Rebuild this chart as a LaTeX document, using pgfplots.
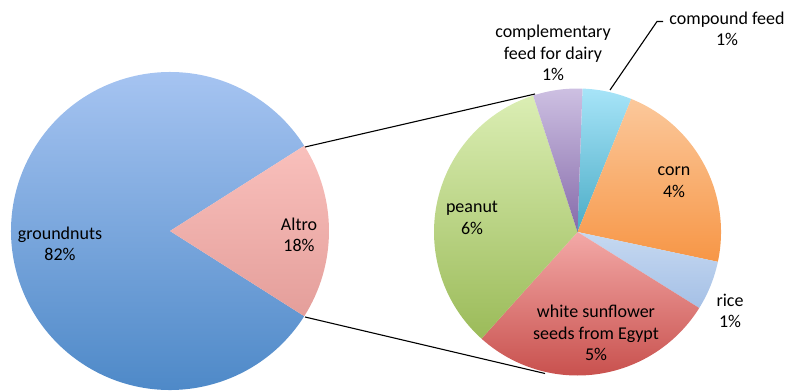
\documentclass[border=0pt]{standalone}
\usepackage{pgfplots}
\pgfplotsset{compat=1.18}
\usepackage{pgfplotstable}
\usepackage{fontspec}
\setmainfont{Carlito}

\definecolor{gnT}{RGB}{172,200,244}
\definecolor{gnB}{RGB}{72,133,197}
\definecolor{alT}{RGB}{249,192,188}
\definecolor{alB}{RGB}{228,158,154}
\definecolor{cfT}{RGB}{167,228,248}
\definecolor{cfB}{RGB}{75,172,198}
\definecolor{coT}{RGB}{251,200,155}
\definecolor{coB}{RGB}{247,150,70}
\definecolor{riT}{RGB}{198,217,241}
\definecolor{riB}{RGB}{165,192,230}
\definecolor{sfT}{RGB}{243,169,167}
\definecolor{sfB}{RGB}{200,80,77}
\definecolor{pnT}{RGB}{219,238,180}
\definecolor{pnB}{RGB}{155,187,89}
\definecolor{cdT}{RGB}{205,192,226}
\definecolor{cdB}{RGB}{134,107,170}

\pgfplotstableread{
label value c
groundnuts 82 gn
Altro 18 al
}\mainpie
\pgfplotstableread{
label value c
compound 1 cf
corn 4 co
rice 1 ri
sunflower 5 sf
peanut 6 pn
complementary 1 cd
}\subpie

\newcommand\lab{\fontsize{18bp}{21.5bp}\selectfont}

% build the wedge commands of a pie from a table: table, cx, cy, r, start angle, output macro
\newcommand\buildpie[6]{%
  \gdef#6{}%
  \gdef\pietotal{0}%
  \pgfplotstableforeachcolumnelement{value}\of#1\as\pv{%
    \pgfmathsetmacro\tmp{\pietotal+\pv}\xdef\pietotal{\tmp}}%
  \xdef\pieangle{#5}%
  \pgfplotstableforeachcolumnelement{value}\of#1\as\pv{%
    \pgfmathsetmacro\pieend{\pieangle-\pv/\pietotal*360}%
    \pgfplotstablegetelem{\pgfplotstablerow}{c}\of#1%
    \edef\pc{\pgfplotsretval}%
    \xdef#6{\unexpanded\expandafter{#6}\noexpand\path[top color=\pc T, bottom color=\pc B]
      (axis cs:#2,#3) -- ++(\pieangle:#4)
      arc[start angle=\pieangle, end angle=\pieend, radius=#4] -- cycle;}%
    \xdef\pieangle{\pieend}%
  }%
}

\begin{document}
\buildpie{\mainpie}{170}{231}{159bp}{-32.4}{\mainpiecmd}%
\buildpie{\subpie}{577.5}{232}{143.5bp}{88}{\subpiecmd}%
\begin{tikzpicture}
\begin{axis}[width=788bp, height=391bp, scale only axis, hide axis,
  xmin=0, xmax=788, ymin=0, ymax=391, y dir=reverse, clip=false]
\addplot[draw=none] coordinates {(0,0) (788,391)};
\mainpiecmd
\subpiecmd
\draw[line width=1.1bp] (axis cs:305,147) -- (axis cs:535,94);
\draw[line width=1.1bp] (axis cs:305,317) -- (axis cs:545,373.5);
\draw[line width=1.1bp] (axis cs:663,21.5) -- (axis cs:657,21.5) -- (axis cs:610,90);
\node[align=center, font=\lab] at (axis cs:60,244) {groundnuts\\82\%};
\node[align=center, font=\lab] at (axis cs:299,235) {Altro\\18\%};
\node[align=center, font=\lab] at (axis cs:472,218) {peanut\\6\%};
\node[align=center, font=\lab] at (axis cs:674,182) {corn\\4\%};
\node[align=center, font=\lab] at (axis cs:730,311) {rice\\1\%};
\node[align=center, font=\lab] at (axis cs:596,333) {white sunflower\\seeds from Egypt\\5\%};
\node[align=center, font=\lab] at (axis cs:553,53) {complementary\\feed for dairy\\1\%};
\node[align=center, font=\lab] at (axis cs:727,29) {compound feed\\1\%};
\coordinate (ll) at (axis cs:0,391);
\coordinate (ur) at (axis cs:788,0);
\end{axis}
\pgfresetboundingbox
\path (ll) rectangle (ur);
\end{tikzpicture}
\end{document}
